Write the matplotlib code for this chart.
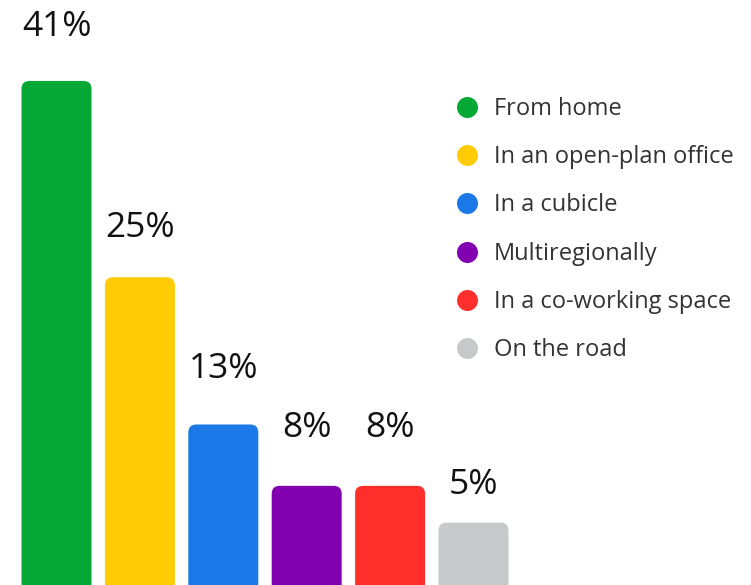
import matplotlib
matplotlib.use("Agg")
import matplotlib.pyplot as plt
from matplotlib.patches import FancyBboxPatch

categories = ["From home", "In an open-plan office", "In a cubicle",
              "Multiregionally", "In a co-working space", "On the road"]
values = [41, 25, 13, 8, 8, 5]
labels = ["41%", "25%", "13%", "8%", "8%", "5%"]
colors = ["#05a834", "#fecb05", "#1a79e6", "#8101b0", "#ff302b", "#c8c9cb"]

# styling: gap (px) between label baseline and bar top
label_gap_px = [45, 40, 46, 49, 49, 29]

W, H = 751, 585
fig = plt.figure(figsize=(W / 100, H / 100), dpi=100)
ax = fig.add_axes([0, 0, 1, 1])
ax.set_axis_off()

spacing_px = 83.4
center0_px = 56.5
px_per_pct = 12.27
ax.set_xlim(-center0_px / spacing_px, (W - center0_px) / spacing_px)
ax.set_ylim(-1.0 / px_per_pct, 584 / px_per_pct)

bar_w = 70 / spacing_px
rad_x = 8 / spacing_px
aspect = (8 / px_per_pct) / rad_x

font = "Open Sans"
for i, (v, c, lab, g) in enumerate(zip(values, colors, labels, label_gap_px)):
    p = FancyBboxPatch((i - bar_w / 2, -0.6), bar_w, v + 0.6,
                       boxstyle=f"round,pad=0,rounding_size={rad_x}",
                       mutation_aspect=aspect, facecolor=c, edgecolor="none")
    ax.add_patch(p)
    ax.text(i, v + g / px_per_pct, lab, ha="center", va="baseline",
            fontsize=25.5, color="#111111", family=font)

# legend
leg_x_dot = 467 / W
leg_x_txt = 494 / W
for k, (cat, c) in enumerate(zip(categories, colors)):
    yp = 107 + k * 48.2
    yf = 1 - yp / H
    ax.scatter([leg_x_dot], [yf], s=(21 * 0.72) ** 2, color=c,
               transform=ax.transAxes, clip_on=False, linewidths=0)
    ax.text(leg_x_txt, 1 - (yp + 2) / H, cat, transform=ax.transAxes,
            ha="left", va="center", fontsize=17, color="#333333", family=font)

fig.savefig("out.png", dpi=100)
